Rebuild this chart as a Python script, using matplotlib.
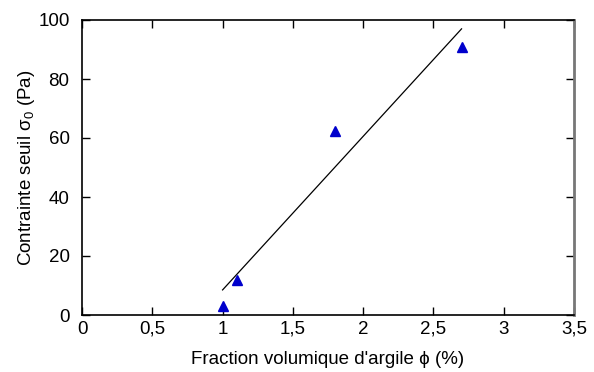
import numpy as np
import matplotlib.pyplot as plt
from matplotlib.ticker import FuncFormatter

# data
phi = [1.0, 1.1, 1.8, 2.7]
sigma0 = [3.0, 12.0, 62.5, 91.0]
fit_x = [1.0, 2.7]
fit_y = [8.5, 97.0]

plt.rcParams['font.family'] = ['Liberation Sans', 'DejaVu Sans']
plt.rcParams['mathtext.fontset'] = 'custom'
plt.rcParams['mathtext.rm'] = 'Liberation Sans'
plt.rcParams['mathtext.it'] = 'Liberation Sans'

fig = plt.figure(figsize=(5.94, 3.72), dpi=100)
ax = fig.add_axes([82 / 594, 1 - 315 / 372, (574 - 82) / 594, (315 - 20) / 372])

ax.plot(fit_x, fit_y, color='black', lw=0.9)
ax.plot(phi, sigma0, linestyle='none', marker='^', color='#0000cc', markersize=7)

ax.set_xlim(0, 3.5)
ax.set_ylim(0, 100)
ax.set_xticks(np.arange(0, 3.51, 0.5))
ax.set_yticks(np.arange(0, 101, 20))
ax.xaxis.set_major_formatter(FuncFormatter(lambda v, p: f"{v:g}".replace('.', ',')))
ax.tick_params(direction='in', top=True, right=True, length=6, width=1,
               labelsize=13.5)
ax.tick_params(axis='y', pad=9)
ax.tick_params(axis='x', pad=4)
for s in ax.spines.values():
    s.set_linewidth(1.2)
ax.spines['right'].set_color('#777777')
ax.spines['right'].set_linewidth(2)

ax.set_xlabel("Fraction volumique d'argile ϕ (%)", fontsize=13.5, labelpad=10)
ax.set_ylabel(r"Contrainte seuil $\sigma_0$ (Pa)", fontsize=13.5, labelpad=1)

fig.savefig('out.png', dpi=100)
